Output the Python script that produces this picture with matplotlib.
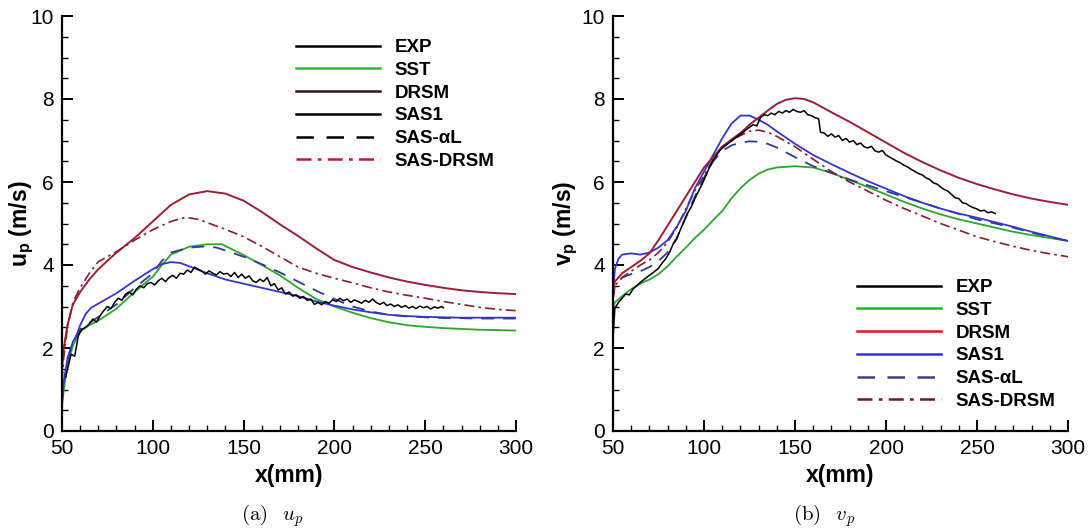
import matplotlib
matplotlib.use("Agg")
import matplotlib.pyplot as plt
from matplotlib.lines import Line2D
from matplotlib.ticker import MultipleLocator

plt.rcParams["font.family"] = ["Liberation Sans", "DejaVu Sans"]
plt.rcParams["mathtext.fontset"] = "custom"
plt.rcParams["mathtext.rm"] = "Liberation Sans:bold"
plt.rcParams["mathtext.it"] = "Liberation Sans:bold"

labels = ["EXP", "SST", "DRSM", "SAS1", "SAS-αL", "SAS-DRSM"]

# ---------------- (a) u_p ----------------
u_exp_x = [52, 55, 57, 59, 61, 63, 65, 67, 69, 71, 73, 75, 77, 79, 81, 83, 85, 87, 89, 91,
           93, 95, 97, 99, 101, 103, 105, 107, 109, 111, 113, 115, 117, 119, 121, 123, 125,
           127, 129, 131, 133, 135, 137, 139, 141, 143, 145, 147, 149, 151, 153, 155, 157,
           159, 161, 163, 165, 167, 169, 171, 173, 175, 177, 179, 181, 183, 185, 187, 189,
           191, 193, 195, 197, 199, 201, 203, 205, 207, 209, 211, 213, 215, 217, 219, 221,
           223, 225, 227, 229, 231, 233, 235, 237, 239, 241, 243, 245, 247, 249, 251, 253,
           255, 257, 259, 260]
u_exp = [1.3, 1.85, 1.8, 2.3, 2.45, 2.5, 2.58, 2.7, 2.62, 2.78, 2.9, 3.0, 2.95, 3.1, 3.2,
         3.15, 3.3, 3.35, 3.28, 3.42, 3.5, 3.45, 3.55, 3.58, 3.52, 3.62, 3.68, 3.6, 3.7, 3.75,
         3.68, 3.8, 3.78, 3.88, 3.82, 3.95, 3.9, 3.85, 3.78, 3.86, 3.8, 3.76, 3.84, 3.78, 3.8,
         3.72, 3.82, 3.7, 3.78, 3.68, 3.74, 3.62, 3.58, 3.66, 3.6, 3.7, 3.5, 3.55, 3.4, 3.45,
         3.3, 3.35, 3.25, 3.28, 3.2, 3.24, 3.15, 3.18, 3.05, 3.1, 3.04, 3.12, 3.08, 3.16, 3.12,
         3.2, 3.14, 3.18, 3.1, 3.16, 3.12, 3.08, 3.15, 3.1, 3.18, 3.1, 3.05, 3.1, 3.02, 3.06,
         3.0, 3.04, 2.98, 3.02, 2.96, 3.0, 2.95, 3.01, 2.97, 3.0, 2.94, 2.99, 2.96, 3.0, 2.97]

u_sst_x = [50, 51, 53, 56, 60, 65, 70, 80, 90, 100, 105, 110, 120, 130, 138, 145, 150, 160,
           170, 180, 190, 200, 210, 220, 230, 240, 250, 260, 270, 280, 290, 300]
u_sst = [0.6, 1.0, 1.6, 2.05, 2.4, 2.55, 2.66, 2.95, 3.35, 3.72, 4.0, 4.25, 4.44, 4.5, 4.5,
         4.35, 4.24, 4.0, 3.75, 3.45, 3.18, 3.0, 2.85, 2.72, 2.62, 2.55, 2.51, 2.48, 2.46,
         2.44, 2.43, 2.42]

u_drsm_x = [50, 51, 53, 56, 60, 65, 70, 80, 90, 100, 110, 120, 130, 140, 150, 160, 170, 180,
            190, 200, 210, 220, 230, 240, 250, 260, 270, 280, 290, 300]
u_drsm = [1.5, 2.0, 2.55, 3.05, 3.35, 3.65, 3.9, 4.3, 4.65, 5.05, 5.45, 5.7, 5.78, 5.72,
          5.55, 5.28, 4.98, 4.7, 4.4, 4.12, 3.95, 3.82, 3.7, 3.6, 3.52, 3.45, 3.39, 3.35,
          3.32, 3.3]

u_sas1_x = [50, 51, 53, 56, 58, 60, 63, 66, 70, 80, 90, 100, 105, 110, 115, 120, 130, 140,
            150, 160, 170, 180, 190, 200, 210, 220, 230, 240, 250, 260, 270, 280, 290, 300]
u_sas1 = [0.8, 1.2, 1.75, 2.15, 2.3, 2.55, 2.82, 2.97, 3.07, 3.32, 3.62, 3.9, 4.02, 4.07,
          4.05, 3.97, 3.8, 3.65, 3.55, 3.45, 3.35, 3.25, 3.12, 3.02, 2.93, 2.86, 2.8, 2.77,
          2.75, 2.74, 2.73, 2.73, 2.73, 2.73]

u_al_x = [50, 51, 53, 56, 60, 65, 70, 80, 90, 100, 105, 110, 120, 130, 135, 140, 150, 160,
          170, 180, 190, 200, 210, 220, 230, 240, 250, 260, 270, 280, 290, 300]
u_al = [0.7, 1.1, 1.7, 2.15, 2.45, 2.6, 2.75, 3.05, 3.45, 3.8, 4.1, 4.3, 4.42, 4.45, 4.42,
        4.35, 4.2, 4.02, 3.82, 3.6, 3.38, 3.18, 3.0, 2.88, 2.8, 2.76, 2.74, 2.72, 2.72, 2.71,
        2.71, 2.71]

u_sd_x = [50, 51, 53, 56, 60, 65, 70, 80, 90, 100, 110, 118, 125, 130, 140, 150, 160, 170,
          180, 190, 200, 210, 220, 230, 240, 250, 260, 270, 280, 290, 300]
u_sd = [1.2, 1.8, 2.5, 3.1, 3.45, 3.8, 4.08, 4.32, 4.6, 4.85, 5.05, 5.15, 5.1, 5.02, 4.86,
        4.68, 4.45, 4.2, 3.95, 3.8, 3.68, 3.57, 3.45, 3.35, 3.27, 3.2, 3.12, 3.05, 2.98, 2.93,
        2.9]

# ---------------- (b) v_p ----------------
v_exp_x = [50, 51, 53, 55, 57, 59, 61, 63, 65, 67, 69, 71, 73, 75, 77, 79, 81, 83, 85, 87,
           89, 91, 93, 95, 97, 99, 101, 103, 105, 107, 109, 111, 113, 115, 117, 119, 121, 123,
           125, 127, 129, 131, 133, 135, 137, 139, 141, 143, 145, 147, 149, 151, 153, 155,
           157, 159, 161, 163, 164, 166, 168, 170, 172, 174, 176, 178, 180, 182, 184, 186,
           188, 190, 192, 194, 196, 198, 200, 202, 204, 206, 208, 210, 212, 214, 216, 218,
           220, 222, 224, 226, 228, 230, 232, 234, 236, 238, 240, 242, 244, 246, 248, 250,
           252, 254, 256, 258, 260]
v_exp = [2.2, 2.95, 3.1, 3.2, 3.3, 3.28, 3.42, 3.5, 3.58, 3.65, 3.72, 3.78, 3.85, 3.92, 4.05,
         4.15, 4.3, 4.5, 4.62, 4.85, 5.05, 5.25, 5.4, 5.6, 5.78, 5.95, 6.15, 6.35, 6.52, 6.65,
         6.78, 6.85, 6.92, 6.98, 7.05, 7.12, 7.18, 7.25, 7.32, 7.38, 7.35, 7.55, 7.62, 7.6,
         7.66, 7.62, 7.7, 7.66, 7.72, 7.68, 7.75, 7.7, 7.68, 7.72, 7.62, 7.6, 7.55, 7.52, 7.2,
         7.18, 7.1, 7.16, 7.08, 7.12, 7.0, 7.05, 6.96, 7.0, 6.9, 6.94, 6.85, 6.82, 6.86, 6.75,
         6.72, 6.76, 6.65, 6.6, 6.55, 6.5, 6.46, 6.4, 6.36, 6.3, 6.25, 6.2, 6.17, 6.1, 6.06,
         5.98, 5.95, 5.88, 5.82, 5.78, 5.7, 5.62, 5.6, 5.5, 5.48, 5.42, 5.38, 5.35, 5.3, 5.32,
         5.26, 5.28, 5.24]

v_sst_x = [50, 51, 55, 60, 65, 70, 75, 80, 85, 90, 95, 100, 105, 110, 115, 120, 125, 130,
           135, 140, 150, 160, 170, 180, 190, 200, 210, 220, 230, 240, 250, 260, 270, 280,
           290, 300]
v_sst = [2.9, 3.1, 3.25, 3.42, 3.55, 3.65, 3.78, 3.97, 4.2, 4.42, 4.65, 4.85, 5.08, 5.3, 5.6,
         5.85, 6.05, 6.2, 6.3, 6.35, 6.38, 6.35, 6.22, 6.05, 5.88, 5.7, 5.52, 5.36, 5.22, 5.1,
         5.0, 4.9, 4.8, 4.72, 4.65, 4.58]

v_drsm_x = [50, 51, 55, 60, 65, 70, 75, 80, 85, 90, 95, 100, 105, 110, 115, 120, 125, 130,
            135, 140, 145, 150, 155, 160, 165, 170, 180, 190, 200, 210, 220, 230, 240, 250,
            260, 270, 280, 290, 300]
v_drsm = [3.3, 3.6, 3.8, 3.95, 4.1, 4.28, 4.6, 4.95, 5.3, 5.65, 6.0, 6.35, 6.6, 6.85, 7.02,
          7.18, 7.38, 7.55, 7.72, 7.88, 7.98, 8.02, 8.0, 7.92, 7.8, 7.68, 7.45, 7.2, 6.95,
          6.7, 6.48, 6.28, 6.1, 5.95, 5.82, 5.7, 5.6, 5.52, 5.45]

v_sas1_x = [50, 51, 53, 55, 60, 65, 70, 75, 80, 85, 90, 95, 100, 105, 110, 115, 120, 125,
            130, 135, 140, 150, 160, 170, 180, 190, 200, 210, 220, 230, 240, 250, 260, 270,
            280, 290, 300]
v_sas1 = [3.3, 3.9, 4.15, 4.25, 4.28, 4.25, 4.3, 4.42, 4.6, 4.92, 5.3, 5.85, 6.25, 6.65,
          7.05, 7.4, 7.6, 7.6, 7.5, 7.38, 7.22, 6.92, 6.65, 6.43, 6.22, 6.02, 5.84, 5.66, 5.5,
          5.36, 5.24, 5.14, 5.03, 4.92, 4.8, 4.69, 4.58]

v_al_x = [50, 51, 55, 60, 65, 70, 75, 80, 85, 90, 95, 100, 105, 110, 115, 120, 125, 130,
          135, 140, 150, 160, 170, 180, 190, 200, 210, 220, 230, 240, 250, 260, 270, 280,
          290, 300]
v_al = [3.2, 3.5, 3.7, 3.78, 3.85, 3.95, 4.1, 4.3, 4.65, 5.15, 5.65, 6.1, 6.5, 6.75, 6.88,
        6.95, 6.98, 6.97, 6.92, 6.83, 6.6, 6.38, 6.22, 6.06, 5.92, 5.78, 5.64, 5.5, 5.36,
        5.23, 5.1, 5.0, 4.9, 4.78, 4.67, 4.58]

v_sd_x = [50, 51, 55, 60, 65, 70, 75, 80, 85, 90, 95, 100, 105, 110, 115, 120, 125, 130,
          135, 140, 150, 160, 170, 180, 190, 200, 210, 220, 230, 240, 250, 260, 270, 280,
          290, 300]
v_sd = [3.2, 3.5, 3.7, 3.85, 4.0, 4.12, 4.3, 4.55, 4.9, 5.35, 5.8, 6.15, 6.55, 6.85, 7.0,
        7.12, 7.22, 7.25, 7.2, 7.1, 6.85, 6.55, 6.25, 6.0, 5.78, 5.56, 5.36, 5.18, 5.0, 4.84,
        4.68, 4.56, 4.45, 4.35, 4.27, 4.2]

# line styles of the curves
c_exp = "black"
c_sst = "#2aa82a"
c_drsm = "#9a1f35"
c_sas1 = "#3535c8"
c_al = "#2d3a9a"
c_sd = "#8a1c2c"
dash = (7, 5)
dashdot = (6, 2.5, 1.5, 2.5)


def setup_axes(ax):
    ax.set_xlim(50, 300)
    ax.set_ylim(0, 10)
    ax.spines["top"].set_visible(False)
    ax.spines["right"].set_visible(False)
    ax.spines["left"].set_linewidth(1.6)
    ax.spines["bottom"].set_linewidth(1.6)
    ax.xaxis.set_major_locator(MultipleLocator(50))
    ax.xaxis.set_minor_locator(MultipleLocator(10))
    ax.yaxis.set_major_locator(MultipleLocator(2))
    ax.yaxis.set_minor_locator(MultipleLocator(0.5))
    ax.tick_params(which="major", direction="in", length=8, width=1.4, labelsize=15, pad=6)
    ax.tick_params(which="minor", direction="in", length=4.5, width=1.0)
    ax.set_xlabel("x(mm)", fontsize=16.5, fontweight="bold", labelpad=4)


fig = plt.figure(figsize=(10.91, 5.30), dpi=100)
ax1 = fig.add_axes([62 / 1091, 99 / 530, 454 / 1091, 415 / 530])
ax2 = fig.add_axes([613 / 1091, 99 / 530, 455 / 1091, 415 / 530])

# panel a
ax1.plot(u_sst_x, u_sst, color=c_sst, lw=1.3)
ax1.plot(u_drsm_x, u_drsm, color=c_drsm, lw=1.4)
ax1.plot(u_al_x, u_al, color=c_al, lw=1.3, dashes=dash)
ax1.plot(u_sas1_x, u_sas1, color=c_sas1, lw=1.3)
ax1.plot(u_sd_x, u_sd, color=c_sd, lw=1.2, dashes=dashdot)
ax1.plot(u_exp_x, u_exp, color=c_exp, lw=1.1)
setup_axes(ax1)
ax1.set_ylabel(r"u$_\mathrm{p}$ (m/s)", fontsize=16.5, fontweight="bold")
ax1.yaxis.set_label_coords(-0.057, 0.5)

# panel b
ax2.plot(v_sst_x, v_sst, color=c_sst, lw=1.3)
ax2.plot(v_al_x, v_al, color=c_al, lw=1.3, dashes=dash)
ax2.plot(v_sd_x, v_sd, color=c_sd, lw=1.2, dashes=dashdot)
ax2.plot(v_sas1_x, v_sas1, color=c_sas1, lw=1.3)
ax2.plot(v_drsm_x, v_drsm, color=c_drsm, lw=1.4)
ax2.plot(v_exp_x, v_exp, color=c_exp, lw=1.1)
setup_axes(ax2)
ax2.set_ylabel(r"v$_\mathrm{p}$ (m/s)", fontsize=16.5, fontweight="bold")
ax2.yaxis.set_label_coords(-0.072, 0.5)

# legends (the keys are drawn in their own colours, as in the figure)
keys_a = [("black", None), ("#3cb43c", None), ("#3a1414", None), ("black", None),
          ("black", dash), ("#c8143a", dashdot)]
keys_b = [("black", None), ("#22b422", None), ("#d81820", None), ("#3030d0", None),
          ("#404088", dash), ("#6a1828", dashdot)]


def make_handles(keys):
    hs = []
    for col, d in keys:
        if d is None:
            hs.append(Line2D([], [], color=col, lw=1.8))
        else:
            hs.append(Line2D([], [], color=col, lw=1.8, dashes=d))
    return hs


leg_kw = dict(frameon=False, loc="upper left", handlelength=4.5, handletextpad=0.75,
              labelspacing=0.3, borderpad=0, borderaxespad=0,
              prop={"family": "Liberation Sans", "weight": "bold", "size": 13.5})
fig.legend(make_handles(keys_a), labels, bbox_to_anchor=(296 / 1091, 1 - 39 / 530), **leg_kw)
fig.legend(make_handles(keys_b), labels, bbox_to_anchor=(857 / 1091, 1 - 279 / 530), **leg_kw)

# captions
fig.text(272 / 1091, 1 - 516 / 530, r"$\mathrm{(a)}\;\;\;u_p$", ha="center", va="center",
         fontsize=15, math_fontfamily="cm")
fig.text(824 / 1091, 1 - 516 / 530, r"$\mathrm{(b)}\;\;\;v_p$", ha="center", va="center",
         fontsize=15, math_fontfamily="cm")

fig.savefig("out.png", dpi=100, facecolor="white")
